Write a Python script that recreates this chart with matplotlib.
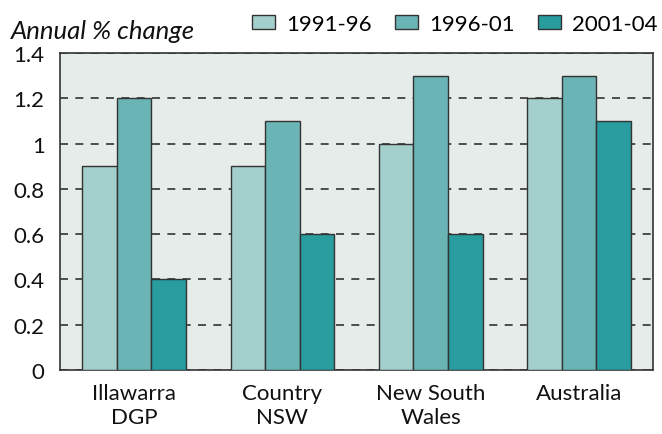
import numpy as np
import matplotlib.pyplot as plt
from matplotlib.patches import Patch

regions = ['Illawarra\nDGP', 'Country\nNSW', 'New South\nWales', 'Australia']
periods = ['1991-96', '1996-01', '2001-04']
vals_9196 = [0.9, 0.9, 1.0, 1.2]
vals_9601 = [1.2, 1.1, 1.3, 1.3]
vals_0104 = [0.4, 0.6, 0.6, 1.1]
colors = ['#a3cfcd', '#6ab4b6', '#289c9e']

plt.rcParams['font.family'] = ['Lato', 'DejaVu Sans']

fig = plt.figure(figsize=(6.62, 4.35), dpi=100)
ax = fig.add_axes([0.0906, 0.147, 0.896, 0.729])
ax.set_facecolor('#e6ecea')

x = np.arange(len(regions))
w = 0.233
series = [vals_9196, vals_9601, vals_0104]
for i, s in enumerate(series):
    ax.bar(x + (i - 1) * w, s, w, color=colors[i], edgecolor='#333333',
           linewidth=1.0, zorder=3)

ax.set_xlim(-0.5, 3.5)
ax.set_ylim(0, 1.4)
ax.set_yticks(np.arange(0, 1.41, 0.2))
ax.set_yticklabels(['0', '0.2', '0.4', '0.6', '0.8', '1', '1.2', '1.4'])
ax.yaxis.grid(True, linestyle=(0, (4.8, 4.4)), color='#333333', linewidth=1.2, zorder=1)
ax.set_axisbelow(True)
ax.set_xticks(x)
ax.set_xticklabels(regions, linespacing=1.3)
ax.tick_params(axis='both', length=0, labelsize=16, colors='#111111')
ax.tick_params(axis='y', pad=11)
ax.tick_params(axis='x', pad=9)
for sp in ax.spines.values():
    sp.set_color('#333333')
    sp.set_linewidth(1.2)

fig.text(0.016, 0.928, 'Annual % change', fontsize=18.5, style='italic', va='center',
         color='#111111')

handles = [Patch(facecolor=c, edgecolor='#333333', linewidth=1.0) for c in colors]
fig.legend(handles, periods, loc='center right', bbox_to_anchor=(0.993, 0.943),
           ncol=3, frameon=False, fontsize=16, handlelength=1.04, handleheight=0.6,
           handletextpad=0.5, columnspacing=1.04, borderaxespad=0, borderpad=0)

fig.savefig('out.png', dpi=100)
